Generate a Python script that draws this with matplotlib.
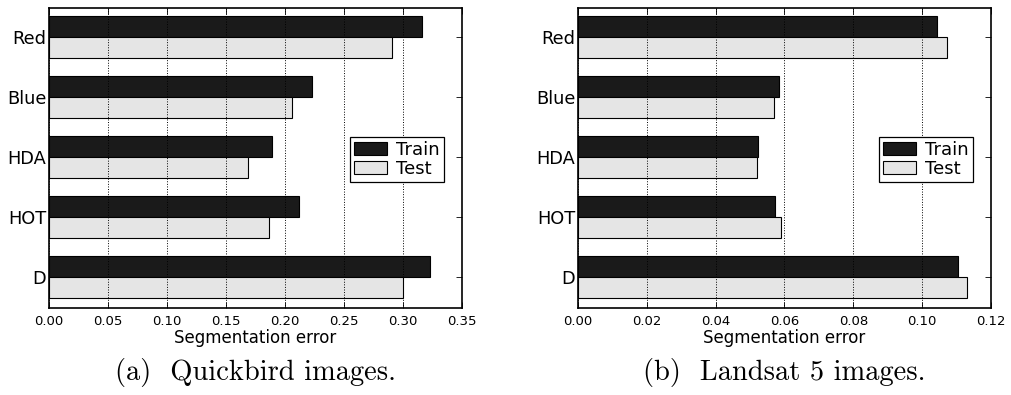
import numpy as np
import matplotlib
matplotlib.use("Agg")
import matplotlib.pyplot as plt
from matplotlib.ticker import FormatStrFormatter

# categories from bottom to top
methods = ['D', 'HOT', 'HDA', 'Blue', 'Red']

quickbird_train = [0.323, 0.2115, 0.189, 0.223, 0.316]
quickbird_test = [0.300, 0.186, 0.169, 0.206, 0.291]

landsat_train = [0.1104, 0.0573, 0.0522, 0.0583, 0.1042]
landsat_test = [0.1129, 0.0589, 0.0520, 0.0570, 0.1071]

captions = ['(a)  Quickbird images.', '(b)  Landsat 5 images.']
xmaxes = [0.35, 0.12]
xsteps = [0.05, 0.02]


def draw_panel(ax, train, test, xmax, xstep):
    y = np.arange(len(methods))
    h = 0.35
    ax.barh(y, train, height=h, align='edge', color='#1a1a1a',
            edgecolor='black', linewidth=0.8, label='Train')
    ax.barh(y - h, test, height=h, align='edge', color='#e5e5e5',
            edgecolor='black', linewidth=0.8, label='Test')
    ax.set_yticks(y)
    ax.set_yticklabels(methods, fontsize=12.8)
    ax.set_ylim(-0.517, 4.483)
    ax.set_xlim(0, xmax)
    ax.set_xticks(np.arange(0, xmax + xstep / 2, xstep))
    ax.xaxis.set_major_formatter(FormatStrFormatter('%.2f'))
    ax.tick_params(axis='x', labelsize=9.5, direction='in', top=True,
                   length=4, width=0.6, pad=5)
    ax.tick_params(axis='y', direction='in', right=True, length=4,
                   width=0.6, pad=2)
    ax.set_axisbelow(False)
    ax.grid(axis='x', linestyle=':', color='black', linewidth=0.7)
    for s in ax.spines.values():
        s.set_linewidth(1.2)
    ax.set_xlabel('Segmentation error', fontsize=12, labelpad=1)
    leg = ax.legend(loc='center right', bbox_to_anchor=(0.965, 0.495),
                    fontsize=13, fancybox=False, framealpha=1,
                    edgecolor='black', handlelength=1.8, handleheight=0.75,
                    borderpad=0.25, labelspacing=0.05, handletextpad=0.5,
                    borderaxespad=0.2)
    leg.get_frame().set_linewidth(0.9)


fig = plt.figure(figsize=(10.11, 3.95), dpi=100)
ax1 = fig.add_axes([0.0485, 0.220, 0.4085, 0.760])
ax2 = fig.add_axes([0.5717, 0.220, 0.4085, 0.760])

draw_panel(ax1, quickbird_train, quickbird_test, xmaxes[0], xsteps[0])
draw_panel(ax2, landsat_train, landsat_test, xmaxes[1], xsteps[1])

for ax, cap in zip([ax1, ax2], captions):
    pos = ax.get_position()
    fig.text((pos.x0 + pos.x1) / 2, 0.058, cap, ha='center', va='center',
             fontsize=20.5, family='cmr10')

fig.savefig('out.png', dpi=100)
